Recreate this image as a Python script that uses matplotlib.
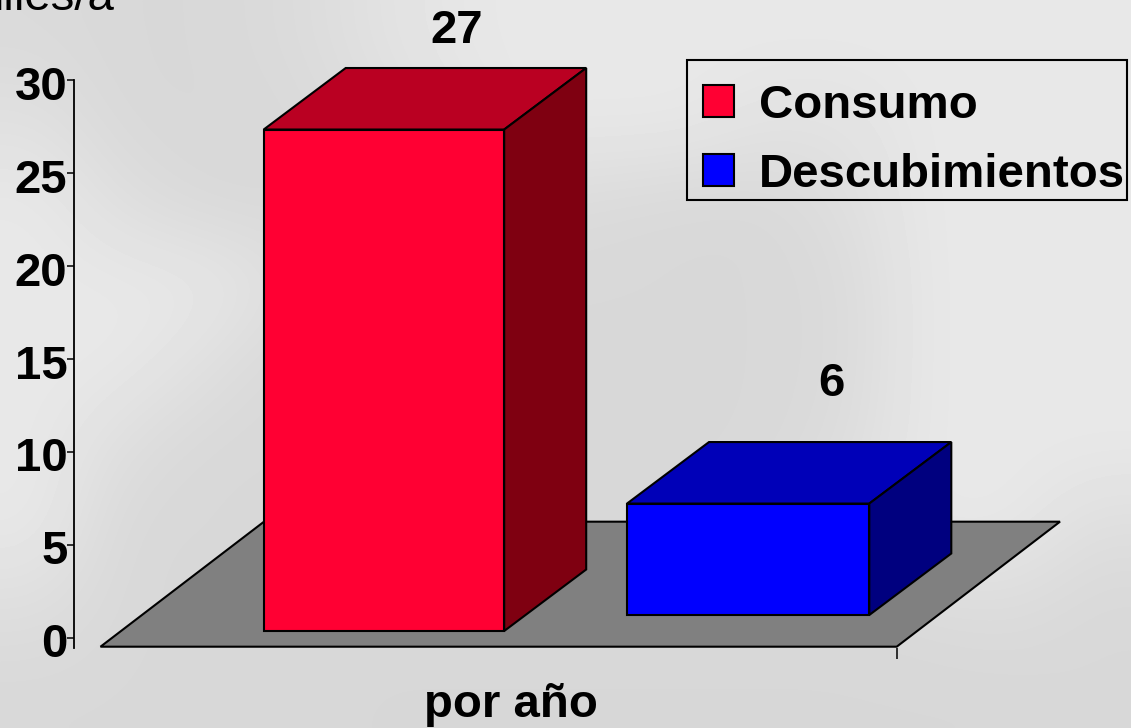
import numpy as np
from matplotlib import pyplot as plt
from matplotlib.patches import Patch, Polygon, Rectangle
from matplotlib.transforms import ScaledTranslation

plt.rcParams['font.family'] = ['Liberation Sans', 'DejaVu Sans']

series = ['Consumo', 'Descubimientos']
values = [27, 6]
colors = ['#ff0033', '#0000ff']
top_colors = ['#ba0022', '#0000b8']
side_colors = ['#7f0011', '#00007f']
yticks = [0, 5, 10, 15, 20, 25, 30]
xlabel = 'por año'
unit_label = 'miles/a'

# soft marbled backdrop, coarse gray levels
backdrop = [
    [218, 216, 216, 218, 224, 230, 232, 232, 232, 232, 232, 232, 232, 232],
    [224, 216, 216, 216, 220, 226, 232, 232, 232, 226, 226, 232, 232, 232],
    [232, 222, 216, 216, 218, 220, 220, 218, 216, 216, 222, 232, 232, 232],
    [232, 232, 232, 224, 216, 216, 216, 216, 216, 216, 218, 232, 232, 232],
    [232, 232, 224, 216, 216, 216, 216, 216, 216, 216, 218, 232, 232, 232],
    [232, 222, 216, 216, 216, 216, 216, 216, 216, 216, 220, 232, 232, 232],
    [232, 216, 216, 216, 216, 216, 216, 216, 216, 218, 226, 232, 232, 222],
    [222, 216, 216, 216, 216, 216, 216, 216, 216, 216, 216, 218, 220, 216],
    [216, 216, 216, 216, 215, 215, 215, 215, 215, 215, 215, 215, 215, 216],
]

W, H = 1131, 728
fig = plt.figure(figsize=(W / 100, H / 100), dpi=100)

bg = fig.add_axes([0, 0, 1, 1])
bg.imshow(np.array(backdrop), cmap='gray', vmin=0, vmax=255, aspect='auto', interpolation='bicubic')
bg.axis('off')

# x runs in pixels, y in chart units
px_per_unit = 18.57
y0_px = 637.7
spine_x = 73.7
spine_bottom = 648
fsize = 34.1


def to_y(px):
    return (y0_px - px) / px_per_unit


ax = fig.add_axes([spine_x / W, 1 - spine_bottom / H, 1 - spine_x / W, (spine_bottom - 80.5) / H])
ax.patch.set_alpha(0)
ax.set_xlim(spine_x, W)
ax.set_ylim(to_y(spine_bottom), 30)
for s in ['top', 'right', 'bottom']:
    ax.spines[s].set_visible(False)
ax.spines['left'].set_linewidth(1.3)

ax.set_yticks(yticks)
ax.tick_params(axis='y', length=5.2, width=1.1, pad=0, labelsize=fsize)
shift = ScaledTranslation(1 / 100, -2.5 / 100, fig.dpi_scale_trans)
for t in ax.get_yticklabels():
    t.set_fontweight('bold')
    t.set_transform(t.get_transform() + shift)
ax.set_xticks([896.7], [''])
ax.tick_params(axis='x', length=8, width=1.1)

# floor
floor_front = to_y(646.7)
floor_back = to_y(521.7)
ax.add_patch(Polygon([(100.5, floor_front), (896.7, floor_front), (1060, floor_back), (264, floor_back)],
                     closed=True, fc='#808080', ec='black', lw=1.5, zorder=1, clip_on=False))

# bars
lefts = [263.7, 627]
widths = [240.5, 242.3]
bases = [to_y(631), to_y(615)]
dx = 82
dy = 61.5 / px_per_unit
label_x = [457, 831]
label_y = [43.5, 396]
for i in range(len(values)):
    x0 = lefts[i]
    x1 = x0 + widths[i]
    b = bases[i]
    t = b + values[i]
    ax.bar(x0, values[i], width=widths[i], bottom=b, align='edge', color=colors[i],
           edgecolor='black', linewidth=1.5, zorder=3)
    ax.add_patch(Polygon([(x0, t), (x1, t), (x1 + dx, t + dy), (x0 + dx, t + dy)], closed=True,
                         fc=top_colors[i], ec='black', lw=1.5, zorder=3, clip_on=False))
    ax.add_patch(Polygon([(x1, b), (x1 + dx, b + dy), (x1 + dx, t + dy), (x1, t)], closed=True,
                         fc=side_colors[i], ec='black', lw=1.5, zorder=3, clip_on=False))
    ax.text(label_x[i], to_y(label_y[i]), str(values[i]), fontsize=fsize, fontweight='bold',
            ha='center', va='baseline', clip_on=False)

ax.text(510.5, to_y(717), xlabel, fontsize=fsize, fontweight='bold', ha='center', va='baseline', clip_on=False)
fig.text(115 / W, 1 - 10.5 / H, unit_label, fontsize=fsize, ha='right', va='baseline')

# legend box is drawn apart, the long label nearly touches its right edge
fig.add_artist(Rectangle((687 / W, 1 - 200 / H), 440 / W, 140 / H, transform=fig.transFigure,
                         fc='none', ec='black', lw=1.5))
handles = [Patch(fc=colors[i], ec='black', lw=1.5, label=series[i]) for i in range(2)]
ax.legend(handles=handles, loc='upper left', bbox_to_anchor=(703 / W, 1 - 83.5 / H),
          bbox_transform=fig.transFigure, prop={'size': fsize, 'weight': 'bold'},
          frameon=False, borderaxespad=0, borderpad=0,
          handlelength=0.66, handleheight=0.66, handletextpad=0.53,
          labelspacing=0.54)

fig.savefig('out.png', dpi=100)
